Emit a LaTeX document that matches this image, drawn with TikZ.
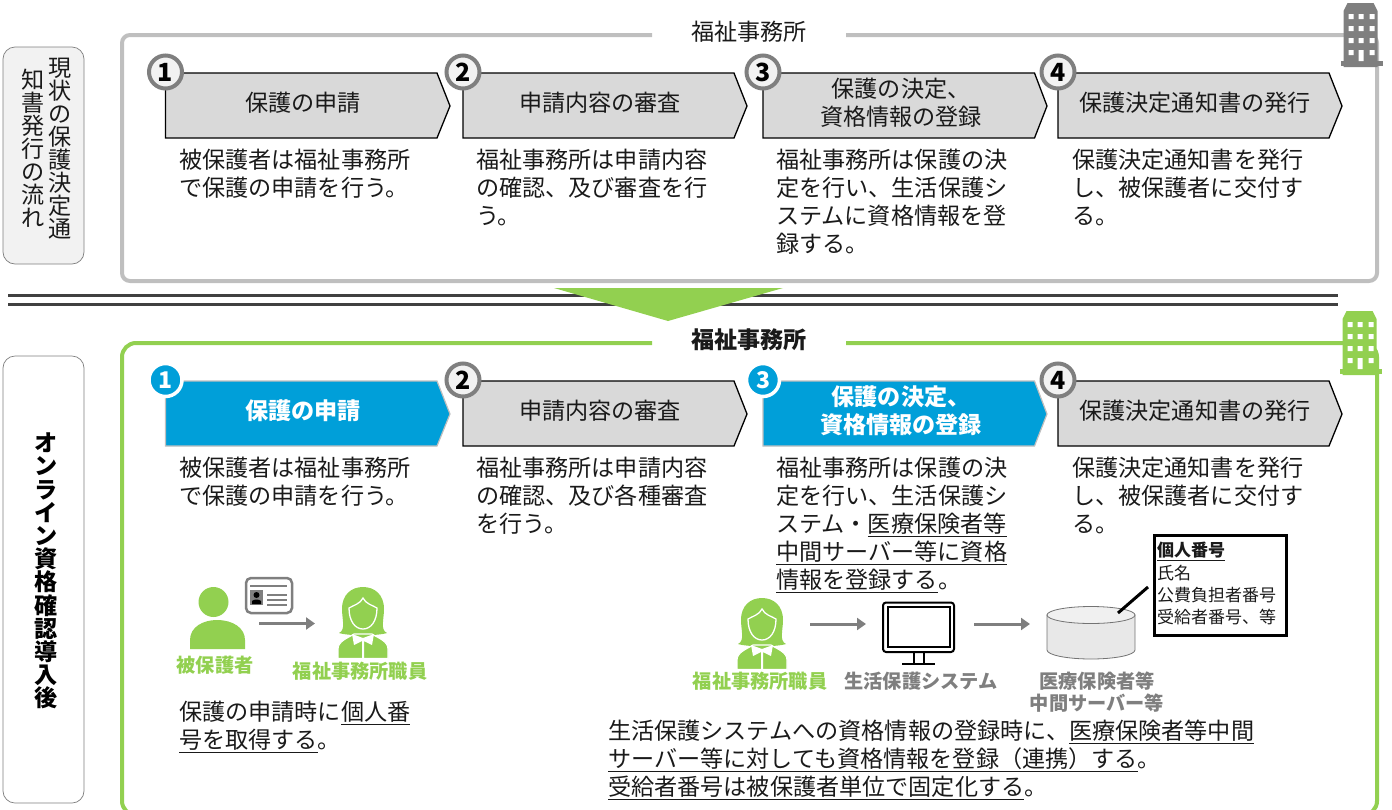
\documentclass[tikz,border=0pt]{standalone}
\usepackage{fontspec}
\setmainfont{Noto Sans CJK JP}
\usetikzlibrary{arrows.meta}
\definecolor{grn}{HTML}{92D050}
\definecolor{frm}{HTML}{BFBFBF}
\definecolor{dgr}{HTML}{7F7F7F}
\definecolor{tagg}{HTML}{D9D9D9}
\definecolor{blu}{HTML}{009FD9}
\definecolor{txt}{HTML}{1A1A1A}
\newcommand\ulx[1]{\leavevmode\setbox0=\hbox{#1}\rlap{\vrule width\wd0 height -3pt depth 4.4pt}\box0}
\tikzset{
  x=1pt,y=-1pt,
  desc/.style={anchor=north west,inner sep=0,align=left,text=txt,font=\fontsize{23.12}{28}\selectfont},
  taglabel/.style={inner sep=0,align=center,text=txt,font=\fontsize{23.12}{28}\selectfont},
  taglabelb/.style={inner sep=0,align=center,text=white,font=\fontsize{23.12}{28}\selectfont\bfseries},
  grayTag/.style={draw=black,line width=1.3pt,fill=tagg},
  blueTag/.style={draw=frm,line width=1.2pt,fill=blu},
  numGray/.style={circle,draw=dgr,line width=4pt,fill=white!95!black,minimum size=33pt,inner sep=0,text=black,font=\fontsize{25}{25}\selectfont\bfseries},
  numBlue/.style={circle,draw=white,line width=3.5pt,fill=blu,minimum size=33pt,inner sep=0,text=white,font=\fontsize{23}{23}\selectfont\bfseries},
  flow/.style={draw=dgr,line width=3pt,-{Triangle[length=9pt,width=12pt]}},
  iconlabel/.style={inner sep=0,align=center,font=\fontsize{19.2}{22}\selectfont\bfseries},
  sidebox/.style={draw=dgr,line width=0.7pt,rounded corners=12pt,minimum width=81pt,inner sep=0},
  vstack/.style={inner sep=0,align=center,font=\fontsize{23.12}{23}\selectfont},
}
% name, left, body end, tip, top, style, label style, label x, label
\newcommand\steptag[9]{%
  \draw[#6] (#2,#5) -- (#3,#5) -- (#4,{#5+33}) -- (#3,{#5+65}) -- (#2,{#5+65}) -- cycle;
  \node[#7] (#1) at (#8,{#5+30}) {#9};
}
\newcommand\building[3]{%
  \begin{scope}[shift={(#1,#2)}]
    \fill[#3] (2,64) -- (2,8) -- (6,0) -- (32,0) -- (36,8) -- (36,64) -- cycle;
    \fill[#3] (-1,58) rectangle (41,63);
    \fill[white] (7,11) rectangle (12,16) (17,11) rectangle (22,16) (28,11) rectangle (33,16)
                 (7,23) rectangle (12,28) (17,23) rectangle (22,28) (28,23) rectangle (33,28)
                 (7,35) rectangle (12,40) (17,35) rectangle (22,40) (28,35) rectangle (33,40)
                 (7,47) rectangle (12,52) (17,47) rectangle (22,58) (28,47) rectangle (33,52);
  \end{scope}
}
\newcommand\staff[2]{%
  \begin{scope}[shift={(#1,#2)}]
    % hair
    \fill[grn] (-24,46) .. controls (-17,43) and (-21,32) .. (-21,22) .. controls (-21,7) and (-11,0) .. (0,0)
       .. controls (11,0) and (21,7) .. (21,22) .. controls (21,32) and (17,43) .. (24,46)
       .. controls (15,49) and (-15,49) .. (-24,46) -- cycle;
    % face
    \draw[white,line width=1.3pt,fill=grn] (0,11) .. controls (-3,17) and (-9,18) .. (-14,21) .. controls (-14,34) and (-8,42) .. (0,42)
       .. controls (8,42) and (14,34) .. (14,21) .. controls (9,18) and (3,17) .. (0,11) -- cycle;
    % body
    \draw[white,line width=1.2pt,fill=grn] (-25,71.5) -- (-25,62) .. controls (-25,54) and (-15,51) .. (-9,47) -- (9,47) .. controls (15,51) and (25,54) .. (25,62) -- (25,71.5) -- cycle;
    % bow and front line
    \fill[white] (-11,47) -- (0,51) -- (11,47) -- (9,58) -- (1,54) -- (1,71) -- (-1,71) -- (-1,54) -- (-9,58) -- cycle;
  \end{scope}
}
\begin{document}
\begin{tikzpicture}
\useasboundingbox (0,0) rectangle (1392,809);
% side boxes
\node[sidebox,fill=white!95!black,minimum height=217pt] (sideA) at (43.5,155.5) {};
\node[sidebox,fill=white,minimum height=447pt] (sideB) at (43.5,579.5) {};
\node[vstack,text=txt] (sideAtextR) at (60,148.5) {現\\状\\の\\保\\護\\決\\定\\通};
\node[vstack,text=txt] (sideAtextL) at (33,148.5) {知\\書\\発\\行\\の\\流\\れ};
\node[vstack,text=black,font=\fontsize{23.12}{23.2}\selectfont\bfseries] (sideBtext) at (46,571) {オ\\ン\\ラ\\イ\\ン\\資\\格\\確\\認\\導\\入\\後};
% frames
\draw[frm,line width=4pt,rounded corners=8pt] (652,35) -- (122,35) -- (122,281) -- (1377,281) -- (1377,35) -- (846,35);
\begin{scope}
\clip (0,0) rectangle (1392,809);
\draw[grn,line width=4pt,rounded corners=14pt] (652,343) -- (122,343) -- (122,815) -- (1377,815) -- (1377,343) -- (846,343);
\end{scope}
\node[inner sep=0,text=txt,font=\fontsize{23.12}{28}\selectfont] (titleA) at (749,32) {福祉事務所};
\node[inner sep=0,text=txt,font=\fontsize{23.12}{28}\selectfont\bfseries] (titleB) at (749,340) {福祉事務所};
\building{1341.5}{3}{dgr}
\building{1340.5}{311}{grn}
% separator
\draw[black!75,line width=3pt] (8,295) -- (1338,295);
\draw[black!75,line width=3pt] (8,304) -- (1338,304);
\fill[grn] (554,288) -- (783,288) -- (668,321) -- cycle;
% upper steps
\steptag{a1}{165.5}{437}{450}{73}{grayTag}{taglabel}{303}{保護の申請}
\steptag{a2}{463}{734}{747}{73}{grayTag}{taglabel}{600}{申請内容の審査}
\steptag{a3}{763}{1034.5}{1047}{73}{grayTag}{taglabel}{901}{保護の決定、\\資格情報の登録}
\steptag{a4}{1058}{1329}{1342}{73}{grayTag}{taglabel}{1195}{保護決定通知書の発行}
\node[numGray] (na1) at (165.5,72) {1};
\node[numGray] (na2) at (463,72) {2};
\node[numGray] (na3) at (763,72) {3};
\node[numGray] (na4) at (1058,72) {4};
\node[desc] (da1) at (179,149) {被保護者は福祉事務所\\で保護の申請を行う。};
\node[desc] (da2) at (476,149) {福祉事務所は申請内容\\の確認、及び審査を行\\う。};
\node[desc] (da3) at (776,149) {福祉事務所は保護の決\\定を行い、生活保護シ\\ステムに資格情報を登\\録する。};
\node[desc] (da4) at (1072,149) {保護決定通知書を発行\\し、被保護者に交付す\\る。};
% lower steps
\steptag{b1}{165.5}{437}{450}{381}{blueTag}{taglabelb}{303}{保護の申請}
\steptag{b2}{463}{734}{747}{381}{grayTag}{taglabel}{600}{申請内容の審査}
\steptag{b3}{763}{1034.5}{1047}{381}{blueTag}{taglabelb}{901}{保護の決定、\\資格情報の登録}
\steptag{b4}{1058}{1329}{1342}{381}{grayTag}{taglabel}{1195}{保護決定通知書の発行}
\node[numBlue] (nb1) at (165.5,380) {1};
\node[numGray] (nb2) at (463,380) {2};
\node[numBlue] (nb3) at (763,380) {3};
\node[numGray] (nb4) at (1058,380) {4};
\node[desc] (db1) at (179,457) {被保護者は福祉事務所\\で保護の申請を行う。};
\node[desc] (db2) at (476,457) {福祉事務所は申請内容\\の確認、及び各種審査\\を行う。};
\node[desc] (db3) at (776,457) {福祉事務所は保護の決\\定を行い、生活保護シ\\ステム・\ulx{医療保険者等}\\\ulx{中間サーバー等に資格}\\\ulx{情報を登録する}。};
\node[desc] (db4) at (1072,457) {保護決定通知書を発行\\し、被保護者に交付す\\る。};
% person
\fill[grn] (213.5,602) circle (15);
\fill[grn] (190,649) -- (190,640) .. controls (190,627) and (203,620) .. (217,620) .. controls (233,620) and (245,628) .. (245,640) -- (245,649) -- cycle;
% card
\draw[dgr,line width=2.5pt,fill=white,rounded corners=5pt] (246,578) rectangle (292,613);
\draw[dgr,line width=1.8pt] (250,586) -- (287,586) (267,595) -- (287,595) (267,600) -- (287,600) (267,605) -- (287,605);
\fill[dgr] (250,590) rectangle (263,605);
\fill[black] (256.5,595) circle (3) (252,604) -- (252,601) .. controls (254,599) and (259,599) .. (261,601) -- (261,604) -- cycle;
\coordinate (arrAs) at (259,623.5);
\coordinate (arrAe) at (315,623.5);
\draw[flow] (arrAs) -- (arrAe);
\staff{363}{587}
\node[iconlabel,text=grn] (lblA) at (215,665) {被保護者};
\node[iconlabel,text=grn] (lblB) at (360,671) {福祉事務所職員};
\node[desc] (dc1) at (179,701) {保護の申請時に\ulx{個人番}\\\ulx{号を取得する}。};
% lower right flow
\staff{762}{598}
\coordinate (arrBs) at (810,624);
\coordinate (arrBe) at (866,624);
\draw[flow] (arrBs) -- (arrBe);
\draw[black,line width=2pt,rounded corners=3pt,fill=white] (883,602.5) rectangle (954,652);
\draw[black,line width=2pt] (887.5,607) rectangle (949.5,647);
\draw[black,line width=1.6pt] (914,652) -- (914,663) (924,652) -- (924,663);
\draw[black,line width=2pt] (902,663.5) -- (935,663.5);
\coordinate (arrCs) at (974,624);
\coordinate (arrCe) at (1030,624);
\draw[flow] (arrCs) -- (arrCe);
% cylinder
\draw[black!55,line width=0.8pt,fill=black!9] (1047,615) -- (1047,650) arc[x radius=44,y radius=9,start angle=180,end angle=0] -- (1135,615) -- cycle;
\draw[black!55,line width=0.8pt,fill=black!6] (1091,615) ellipse (44 and 8.5);
\coordinate (cylTop) at (1118,613);
\node[draw=black,line width=2.5pt,fill=white,anchor=north west,inner sep=0,minimum width=132pt,minimum height=100pt] (infobox) at (1153,534) {};
\node[anchor=north west,inner sep=0,align=left,text=txt,font=\fontsize{17}{22.3}\selectfont] (infotext) at (1157,542) {\textbf{\ulx{個人番号}}\\氏名\\公費負担者番号\\受給者番号、等};
\coordinate (infoFoot) at (1148,587);
\draw[black,line width=3pt] (cylTop) -- (infoFoot);
\node[iconlabel,text=grn] (lblC) at (760,681) {福祉事務所職員};
\node[iconlabel,text=dgr] (lblD) at (921,681) {生活保護システム};
\node[iconlabel,text=dgr] (lblE) at (1097,692) {医療保険者等\\中間サーバー等};
\node[desc] (dc2) at (608,720) {生活保護システムへの資格情報の登録時に、\ulx{医療保険者等中間}\\\ulx{サーバー等に対しても資格情報を登録（連携）する}。\\\ulx{受給者番号は被保護者単位で固定化する}。};
\end{tikzpicture}
\end{document}
